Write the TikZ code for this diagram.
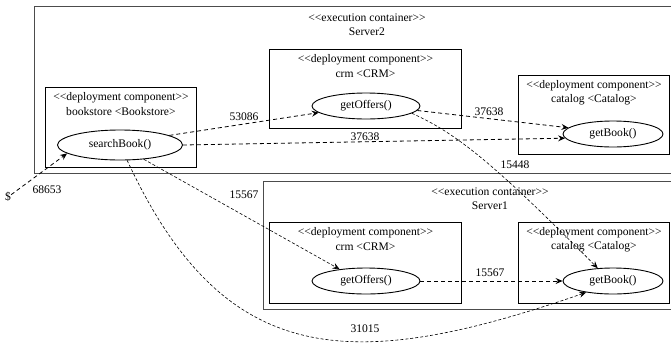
\documentclass[tikz,border=0pt]{standalone}
\usepackage{fontspec}
\setmainfont{Liberation Serif}[Ligatures=TeXOff]
\usetikzlibrary{shapes.geometric,arrows.meta}
\begin{document}
\begin{tikzpicture}[x=1pt,y=-1pt,
  font=\fontsize{11.6}{14}\selectfont,
  container/.style={draw=black!70,line width=1.4pt,rectangle,anchor=north west,inner sep=0pt},
  compbox/.style={draw=black,line width=0.9pt,rectangle,anchor=north west,inner sep=0pt},
  op/.style={draw=black,line width=0.9pt,ellipse,inner sep=0pt},
  lbl/.style={inner sep=0pt},
  flow/.style={dash pattern=on 4pt off 3pt,line width=0.8pt,-{Stealth[length=7pt,width=6pt,inset=2.5pt]}},
  fineflow/.style={flow,dash pattern=on 3pt off 2pt,line width=0.6pt}]

\useasboundingbox (0,0) rectangle (671,343);
\clip (0,0) rectangle (671,343);

% containers
\node[container,minimum width=660pt,minimum height=167pt] (srv2) at (34,6) {};
\node[lbl] (srv2a) at (367,18) {<<execution container>>};
\node[lbl] (srv2b) at (367,32) {Server2};

\node[container,minimum width=430pt,minimum height=128pt] (srv1) at (263,181) {};
\node[lbl] (srv1a) at (490,192) {<<execution container>>};
\node[lbl] (srv1b) at (490,206) {Server1};

% component boxes
\node[compbox,minimum width=151pt,minimum height=80pt] (bs) at (45,87) {};
\node[lbl] at ([yshift=-11pt]bs.north) {<<deployment component>>};
\node[lbl] at ([yshift=-25pt]bs.north) {bookstore <Bookstore>};

\node[compbox,minimum width=192pt,minimum height=79pt] (crm2) at (269,49) {};
\node[lbl] at ([yshift=-11pt]crm2.north) {<<deployment component>>};
\node[lbl] at ([yshift=-25pt]crm2.north) {crm <CRM>};

\node[compbox,minimum width=151pt,minimum height=79pt] (cat2) at (518,75) {};
\node[lbl] at ([yshift=-11pt]cat2.north) {<<deployment component>>};
\node[lbl] at ([yshift=-25pt]cat2.north) {catalog <Catalog>};

\node[compbox,minimum width=192pt,minimum height=81pt] (crm1) at (269,222) {};
\node[lbl] at ([yshift=-11pt]crm1.north) {<<deployment component>>};
\node[lbl] at ([yshift=-25pt]crm1.north) {crm <CRM>};

\node[compbox,minimum width=151pt,minimum height=81pt] (cat1) at (518,222) {};
\node[lbl] at ([yshift=-11pt]cat1.north) {<<deployment component>>};
\node[lbl] at ([yshift=-25pt]cat1.north) {catalog <Catalog>};

% operations
\node[op,minimum width=125pt,minimum height=30pt] (sb) at (120,145) {searchBook()};
\node[op,minimum width=108pt,minimum height=26pt] (go2) at (366,106) {getOffers()};
\node[op,minimum width=100pt,minimum height=26pt] (gb2) at (613,134) {getBook()};
\node[op,minimum width=108pt,minimum height=26pt] (go1) at (366,281) {getOffers()};
\node[op,minimum width=100pt,minimum height=26pt] (gb1) at (613,281) {getBook()};

% entry
\node[lbl] (dollar) at (8,197) {\$};

% connectors
\draw[flow] (dollar) -- (sb.189);
\draw[flow] (sb.11) -- (go2.188);
\draw[flow] (sb.east) -- (gb2.185);
\draw[flow] (go2.-5) -- (gb2.172);
\draw[fineflow] (go2.-9) .. controls (458,134) and (495,165) .. (gb1.140);
\draw[fineflow] (sb.-31) -- (go1.156);
\draw[flow] (go1.east) -- (gb1.west);
\draw[fineflow] (sb.-65) .. controls (224,369) and (350,374) .. (gb1.203);

% labels
\node[lbl] at (47,190) {68653};
\node[lbl] at (244,117) {53086};
\node[lbl] at (365,137) {37638};
\node[lbl] at (489,112) {37638};
\node[lbl] at (515,165) {15448};
\node[lbl] at (244,195) {15567};
\node[lbl] at (490,273) {15567};
\node[lbl] at (365,329) {31015};
\end{tikzpicture}
\end{document}
